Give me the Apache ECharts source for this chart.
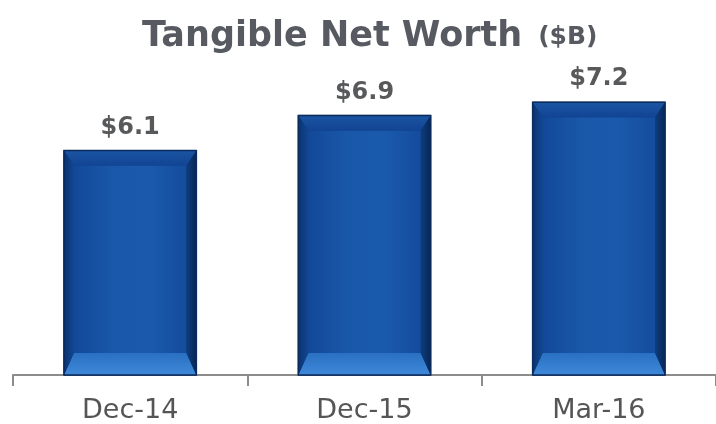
<!DOCTYPE html>
<html><head><meta charset="utf-8">
<script src="https://cdn.jsdelivr.net/npm/echarts@6/dist/echarts.min.js"></script>
<style>html,body{margin:0;padding:0;background:#fff}#c{width:716px;height:424px}</style>
</head><body><div id="c"></div>
<script>
const categories = ['Dec-14', 'Dec-15', 'Mar-16'];
const values = [6.1, 6.9, 7.2];
const valueLabels = ['$6.1', '$6.9', '$7.2'];
const titleMain = 'Tangible Net Worth';
const titleUnit = '($B)';

const FONT = '"DejaVu Sans", "Liberation Sans", Arial, sans-serif';

function lg(x, y, x2, y2, stops) {
  return new echarts.graphic.LinearGradient(x, y, x2, y2,
    stops.map((c, k) => ({ offset: k / (stops.length - 1), color: c })));
}

function renderBar(params, api) {
  const i = api.value(0);
  const v = api.value(1);
  const topPt = api.coord([i, v]);
  const cs = params.coordSys;
  const bottom = cs.y + cs.height;
  const band = api.size([1, 0])[0];
  const w = band * 0.565;
  const cx = topPt[0];
  const x0 = cx - w / 2, x1 = cx + w / 2, y0 = topPt[1], y1 = bottom;
  const s = 10, t = 15, b = 22;
  return {
    type: 'group',
    children: [
      { type: 'rect', shape: { x: x0, y: y0, width: w, height: y1 - y0 },
        style: { fill: '#0c3f86', stroke: '#0a2b5c', lineWidth: 1 } },
      { type: 'rect', shape: { x: x0 + s, y: y0 + t, width: w - 2 * s, height: y1 - y0 - t - b },
        style: { fill: lg(0, 0, 1, 0, ['#134898', '#1957a9', '#1a5aad', '#154c9d']) } },
      { type: 'polygon', shape: { points: [[x0, y0], [x1, y0], [x1 - s, y0 + t], [x0 + s, y0 + t]] },
        style: { fill: lg(0, 0, 0, 1, ['#1a55a2', '#124494']) } },
      { type: 'polygon', shape: { points: [[x0 + s, y1 - b], [x1 - s, y1 - b], [x1, y1], [x0, y1]] },
        style: { fill: lg(0, 0, 0, 1, ['#2a70c2', '#3f88d8']) } },
      { type: 'polygon', shape: { points: [[x0, y0], [x0 + s, y0 + t], [x0 + s, y1 - b], [x0, y1]] },
        style: { fill: lg(0, 0, 1, 0, ['#0a3370', '#124792']) } },
      { type: 'polygon', shape: { points: [[x1, y0], [x1 - s, y0 + t], [x1 - s, y1 - b], [x1, y1]] },
        style: { fill: lg(1, 0, 0, 0, ['#072756', '#0e3d80']) } },
      { type: 'rect', shape: { x: x0, y: y0, width: w, height: y1 - y0 },
        style: { fill: 'none', stroke: '#0a2b5c', lineWidth: 1.5 } },
      { type: 'text', x: cx, y: y0 - 11,
        style: { text: valueLabels[params.dataIndex], align: 'center', verticalAlign: 'bottom',
          fontSize: 24, fontWeight: 'bold', fontFamily: FONT, fill: '#58595b' } }
    ]
  };
}

const chart = echarts.init(document.getElementById('c'));
chart.setOption({
  backgroundColor: '#ffffff',
  animation: false,
  title: {
    text: '{a|' + titleMain + '}{b|' + titleUnit + '}',
    left: 137, top: 12,
    textStyle: {
      rich: {
        a: { fontSize: 35, fontWeight: 'bold', fontFamily: FONT, color: '#575b61', verticalAlign: 'middle', lineHeight: 40 },
        b: { fontSize: 25, fontWeight: 'bold', fontFamily: FONT, color: '#575b61', verticalAlign: 'middle', lineHeight: 40, padding: [0, 0, 0, 16] }
      }
    }
  },
  grid: { left: 13, right: 0, top: 67, bottom: 49 },
  xAxis: {
    type: 'category',
    data: categories,
    axisLine: { lineStyle: { color: '#8c8c8c', width: 2 } },
    axisTick: { show: true, length: 11, lineStyle: { color: '#8c8c8c', width: 2 } },
    axisLabel: { fontSize: 27, color: '#555555', fontFamily: FONT, margin: 22 }
  },
  yAxis: { type: 'value', min: 1, max: 8, show: false, splitLine: { show: false } },
  series: [{
    type: 'custom',
    renderItem: renderBar,
    data: values.map((v, i) => [i, v]),
    encode: { x: 0, y: 1 }
  }]
});
</script>
</body></html>
